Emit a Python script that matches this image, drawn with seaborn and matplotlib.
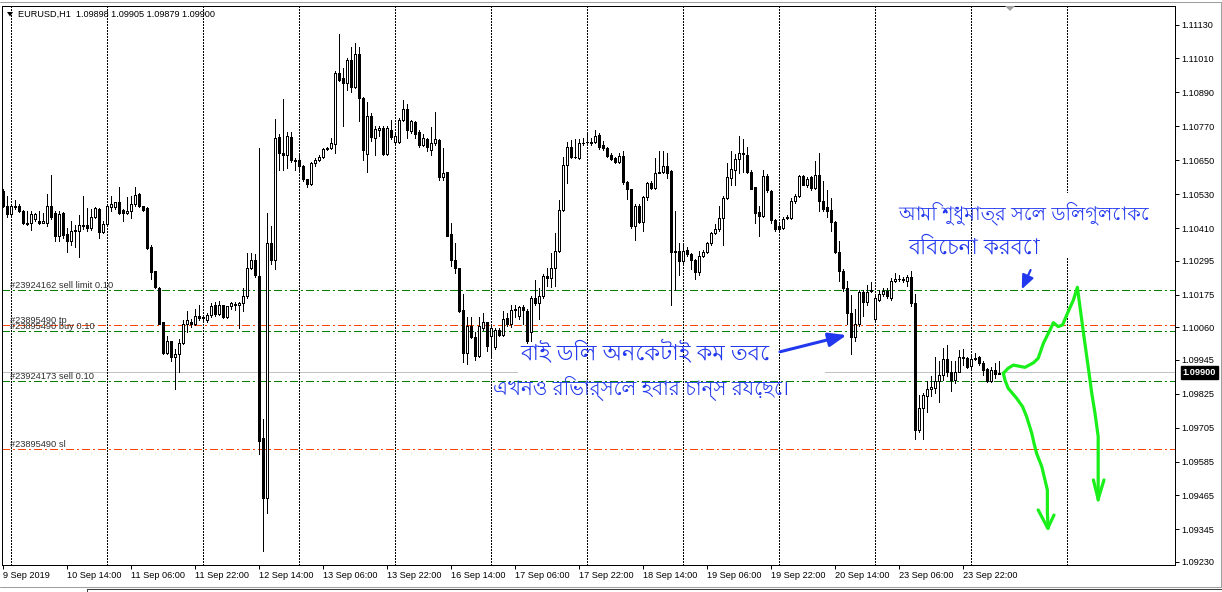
import numpy as np
import pandas as pd
import matplotlib
matplotlib.use("Agg")
import matplotlib.pyplot as plt
from matplotlib import font_manager as fm
from matplotlib.patches import Rectangle, Polygon
from matplotlib.lines import Line2D
import seaborn as sns

# ---------------- data (prices in points, 1 point = 0.00001) ----------------
symbol_title = "EURUSD,H1  1.09898 1.09905 1.09879 1.09900"

open_pts = [
    110541, 110490, 110461, 110488, 110490, 110470, 110430, 110428, 110444, 110437,
    110430, 110430, 110488, 110464, 110384, 110464, 110390, 110364, 110401, 110400,
    110417, 110420, 110410, 110450, 110477, 110397, 110424, 110486, 110486, 110501,
    110473, 110464, 110470, 110497, 110530, 110490, 110480, 110344, 110257, 110200,
    110077, 109970, 110010, 109953, 109964, 110004, 110070, 110080, 110070, 110100,
    110093, 110086, 110104, 110137, 110108, 110137, 110097, 110134, 110143, 110137,
    110144, 110170, 110270, 110297, 110241, 109670, 109457, 110357, 110297, 110733,
    110677, 110670, 110734, 110650, 110650, 110630, 110584, 110566, 110641, 110650,
    110660, 110690, 110693, 110708, 110960, 110940, 110924, 111004, 110910, 111026,
    110870, 110673, 110806, 110730, 110757, 110764, 110673, 110757, 110713, 110713,
    110793, 110830, 110753, 110786, 110750, 110704, 110726, 110688, 110710, 110721,
    110590, 110608, 110388, 110297, 110270, 110121, 109970, 110064, 110026, 109957,
    110057, 110077, 110030, 109990, 110050, 110033, 110094, 110070, 110121, 110100,
    110133, 110117, 110044, 110164, 110144, 110170, 110241, 110233, 110270, 110330,
    110474, 110633, 110697, 110660, 110657, 110710, 110713, 110716, 110713, 110741,
    110704, 110694, 110670, 110657, 110644, 110666, 110574, 110548, 110417, 110490,
    110433, 110520, 110568, 110553, 110606, 110610, 110630, 110613, 110330, 110330,
    110294, 110334, 110317, 110297, 110254, 110310, 110326, 110357, 110393, 110406,
    110446, 110517, 110588, 110617, 110655, 110673, 110670, 110610, 110554, 110467,
    110454, 110593, 110541, 110440, 110417, 110410, 110446, 110446, 110506, 110524,
    110593, 110564, 110590, 110553, 110597, 110506, 110484, 110474, 110433, 110326,
    110260, 110200, 110110, 110026, 110073, 110184, 110150, 110193, 110090, 110157,
    110177, 110188, 110164, 110224, 110230, 110230, 110224, 110237, 110144, 109697,
    109774, 109817, 109841, 109845, 109868, 109892, 109947, 109900, 109872, 109903,
    109956, 109951, 109924, 109947, 109953, 109933, 109912, 109868, 109909, 109895,
    109898,
]
high_pts = [
    110550, 110524, 110497, 110510, 110497, 110474, 110470, 110470, 110464, 110470,
    110464, 110530, 110597, 110470, 110470, 110467, 110410, 110437, 110420, 110457,
    110524, 110480, 110477, 110486, 110480, 110437, 110497, 110524, 110504, 110554,
    110477, 110521, 110524, 110557, 110534, 110490, 110484, 110350, 110257, 110201,
    110077, 110030, 110010, 109984, 110017, 110084, 110117, 110090, 110124, 110140,
    110104, 110110, 110144, 110150, 110154, 110140, 110134, 110150, 110150, 110150,
    110197, 110324, 110321, 110317, 110694, 109737, 110464, 110417, 110797, 110744,
    110868, 110750, 110750, 110657, 110670, 110633, 110584, 110644, 110657, 110668,
    110693, 110697, 110730, 110966, 111097, 110977, 111010, 111050, 111064, 111050,
    110874, 110857, 110817, 110770, 110770, 110770, 110770, 110793, 110744, 110801,
    110864, 110850, 110793, 110790, 110757, 110744, 110730, 110768, 110821, 110724,
    110694, 110610, 110430, 110357, 110270, 110177, 110097, 110097, 110044, 110097,
    110110, 110077, 110070, 110057, 110057, 110117, 110110, 110137, 110137, 110134,
    110137, 110124, 110170, 110228, 110197, 110248, 110270, 110321, 110393, 110508,
    110660, 110713, 110721, 110724, 110726, 110730, 110744, 110730, 110757, 110748,
    110717, 110697, 110677, 110660, 110677, 110684, 110577, 110550, 110497, 110497,
    110524, 110574, 110577, 110657, 110684, 110684, 110677, 110614, 110470, 110357,
    110357, 110344, 110321, 110300, 110330, 110334, 110361, 110397, 110424, 110490,
    110524, 110641, 110684, 110673, 110737, 110724, 110697, 110614, 110557, 110490,
    110614, 110601, 110544, 110444, 110424, 110450, 110457, 110517, 110530, 110597,
    110597, 110590, 110593, 110646, 110677, 110577, 110544, 110517, 110437, 110366,
    110264, 110224, 110174, 110124, 110190, 110190, 110210, 110221, 110170, 110190,
    110197, 110197, 110233, 110250, 110244, 110237, 110246, 110257, 110177, 109821,
    109827, 109868, 109886, 109956, 109939, 109986, 109998, 109939, 109939, 109978,
    109982, 109956, 109962, 109968, 109959, 109939, 109915, 109919, 109933, 109939,
    109905,
]
low_pts = [
    110486, 110450, 110457, 110477, 110466, 110424, 110420, 110404, 110437, 110424,
    110428, 110417, 110444, 110364, 110364, 110377, 110326, 110350, 110344, 110308,
    110406, 110401, 110404, 110446, 110377, 110393, 110417, 110470, 110477, 110460,
    110437, 110461, 110446, 110490, 110486, 110470, 110337, 110230, 110197, 110070,
    109964, 109964, 109940, 109841, 109901, 110000, 110044, 110060, 110068, 110086,
    110086, 110077, 110097, 110100, 110104, 110094, 110094, 110124, 110121, 110057,
    110117, 110164, 110264, 110237, 109610, 109270, 109404, 110284, 110264, 110617,
    110617, 110624, 110644, 110614, 110610, 110577, 110554, 110564, 110630, 110646,
    110657, 110686, 110690, 110677, 110930, 110770, 110897, 110890, 110904, 110790,
    110650, 110610, 110717, 110668, 110737, 110668, 110670, 110727, 110704, 110710,
    110790, 110730, 110748, 110730, 110697, 110700, 110684, 110668, 110704, 110580,
    110580, 110381, 110277, 110250, 110113, 109937, 109930, 110020, 109944, 109953,
    110050, 109977, 109957, 109984, 110030, 110028, 110064, 110062, 110097, 110090,
    110073, 110004, 110010, 110137, 110090, 110164, 110204, 110201, 110206, 110326,
    110470, 110570, 110657, 110657, 110655, 110704, 110708, 110704, 110710, 110690,
    110686, 110660, 110650, 110641, 110641, 110566, 110513, 110410, 110368, 110428,
    110401, 110510, 110548, 110548, 110604, 110604, 110588, 110137, 110190, 110246,
    110284, 110310, 110264, 110230, 110246, 110308, 110321, 110350, 110388, 110401,
    110350, 110513, 110561, 110561, 110604, 110610, 110604, 110548, 110430, 110384,
    110450, 110537, 110430, 110401, 110401, 110406, 110444, 110441, 110500, 110521,
    110561, 110557, 110544, 110548, 110470, 110470, 110450, 110401, 110321, 110224,
    110188, 110070, 109964, 110010, 110064, 110100, 110137, 110184, 110086, 110153,
    110170, 110164, 110157, 110221, 110224, 110221, 110204, 110134, 109664, 109691,
    109664, 109759, 109815, 109827, 109794, 109874, 109886, 109836, 109862, 109900,
    109927, 109915, 109915, 109945, 109927, 109892, 109865, 109865, 109880, 109893,
    109879,
]
close_pts = [
    110490, 110461, 110490, 110486, 110470, 110428, 110424, 110460, 110460, 110428,
    110434, 110488, 110450, 110381, 110461, 110386, 110364, 110401, 110404, 110420,
    110422, 110410, 110450, 110480, 110397, 110424, 110490, 110497, 110501, 110464,
    110464, 110470, 110497, 110528, 110490, 110474, 110341, 110254, 110201, 110073,
    109970, 110010, 109953, 109964, 110004, 110073, 110084, 110070, 110100, 110093,
    110097, 110104, 110134, 110108, 110137, 110097, 110134, 110144, 110137, 110144,
    110170, 110270, 110297, 110244, 109657, 109457, 110357, 110297, 110730, 110674,
    110670, 110737, 110650, 110646, 110630, 110584, 110566, 110641, 110650, 110660,
    110690, 110693, 110710, 110960, 110934, 110924, 111004, 110910, 111026, 110870,
    110686, 110806, 110734, 110760, 110764, 110673, 110764, 110734, 110737, 110793,
    110830, 110757, 110790, 110744, 110704, 110730, 110697, 110710, 110724, 110590,
    110606, 110384, 110297, 110268, 110117, 109970, 110064, 110024, 109957, 110064,
    110077, 109993, 110057, 110050, 110033, 110090, 110070, 110121, 110126, 110130,
    110121, 110010, 110164, 110144, 110170, 110241, 110233, 110270, 110330, 110474,
    110633, 110697, 110660, 110662, 110710, 110712, 110715, 110712, 110737, 110697,
    110694, 110664, 110655, 110644, 110666, 110574, 110548, 110417, 110490, 110433,
    110520, 110568, 110553, 110606, 110610, 110630, 110606, 110326, 110326, 110294,
    110330, 110317, 110297, 110254, 110310, 110326, 110357, 110393, 110406, 110446,
    110517, 110590, 110620, 110655, 110677, 110677, 110610, 110550, 110464, 110454,
    110596, 110544, 110440, 110406, 110406, 110444, 110449, 110506, 110524, 110593,
    110564, 110584, 110553, 110597, 110506, 110477, 110470, 110433, 110326, 110260,
    110197, 110110, 110026, 110073, 110184, 110150, 110184, 110188, 110164, 110177,
    110188, 110170, 110224, 110230, 110232, 110228, 110237, 110144, 109697, 109774,
    109821, 109841, 109848, 109868, 109892, 109947, 109900, 109872, 109903, 109956,
    109951, 109921, 109947, 109951, 109933, 109909, 109868, 109909, 109895, 109898,
    109900,
]

date_labels = ["9 Sep 2019", "10 Sep 14:00", "11 Sep 06:00", "11 Sep 22:00",
               "12 Sep 14:00", "13 Sep 06:00", "13 Sep 22:00", "16 Sep 14:00",
               "17 Sep 06:00", "17 Sep 22:00", "18 Sep 14:00", "19 Sep 06:00",
               "19 Sep 22:00", "20 Sep 14:00", "23 Sep 06:00", "23 Sep 22:00"]
price_ticks = [1.11130, 1.11010, 1.10890, 1.10770, 1.10650, 1.10530, 1.10410,
               1.10295, 1.10175, 1.10060, 1.09945, 1.09825, 1.09705, 1.09585,
               1.09465, 1.09345, 1.09230]

order_labels = ["#23924162 sell limit 0.10", "#23895490 tp", "#23895490 buy 0.10",
                "#23924173 sell 0.10", "#23895490 sl"]
order_prices = [1.10190, 1.10066, 1.10047, 1.09870, 1.09630]
order_kinds = ["green", "red", "green", "green", "red"]
bid_price = 1.09900

# hand-drawn projection strokes (bar index, price)
up_stroke_bar = [250.1, 251.3, 252.6, 255.5, 257.6, 258.8, 260.1, 261.75, 262.6, 263.8,
                 264.9, 266.3, 267.6, 268.6, 269.25, 270.25, 271.3, 272.2, 273.0, 273.8,
                 273.8, 273.8]
up_stroke_price = [1.09897, 1.09915, 1.09926, 1.09918, 1.09934, 1.09950, 1.10003, 1.10050,
                   1.10076, 1.10062, 1.10068, 1.10115, 1.10156, 1.10201, 1.10132, 1.10026,
                   1.09920, 1.09826, 1.09756, 1.09673, 1.09567, 1.09449]
up_head_bar = [272.6, 273.8, 275.25]
up_head_price = [1.09520, 1.09452, 1.09520]
down_stroke_bar = [250.1, 250.5, 251.3, 253.4, 254.9, 255.9, 257.2, 257.75, 258.4, 259.7,
                   260.5, 261.1, 261.1, 261.3]
down_stroke_price = [1.09897, 1.09873, 1.09844, 1.09809, 1.09779, 1.09744, 1.09685, 1.09650,
                     1.09614, 1.09567, 1.09520, 1.09484, 1.09402, 1.09349]
down_head_bar = [258.8, 261.2, 262.75]
down_head_price = [1.09414, 1.09349, 1.09396]

note_texts = ["আমি শুধুমাত্র সেল ডিলগুলোকে", "বিবেচনা করবো",
              "বাই ডিল অনেকটাই কম তবে", "এখনও রিভার্সেল হবার চান্স রয়েছে।"]

# ---------------- style ----------------
sns.set_theme(style="white")
plt.rcParams["lines.scale_dashes"] = False
small_font = ["Liberation Sans", "DejaVu Sans"]
plt.rcParams["font.family"] = small_font


def find_font(ch):
    from matplotlib.ft2font import FT2Font
    cands = sorted(fm.fontManager.ttflist, key=lambda f: (0 if "Bengali" in f.name else 1))
    seen = set()
    for f in cands:
        if f.fname in seen:
            continue
        seen.add(f.fname)
        try:
            if ord(ch) in FT2Font(f.fname).get_charmap():
                return f.name
        except Exception:
            pass
    return None


bn = find_font("আ")
bn_family = [bn, "DejaVu Sans"] if bn else ["DejaVu Sans"]

W, H = 1222, 592
fig = plt.figure(figsize=(W / 100, H / 100), dpi=100, facecolor="white")
ax_left, ax_right, ax_top, ax_bot = 2, 1175.3, 6, 565
ax = fig.add_axes([ax_left / W, 1 - ax_bot / H, (ax_right - ax_left) / W, (ax_bot - ax_top) / H])
ax.set_facecolor("white")

df = pd.DataFrame({"o": open_pts, "h": high_pts, "l": low_pts, "c": close_pts}) / 1e5
df["bar"] = np.arange(len(df))
up = df["c"] >= df["o"]

# price scale (1 px = 0.00003535)
ax.set_ylim(1.092193, 1.111954)
ax.set_xlim(-0.25, 293.08)

# vertical day grid
for g in range(2, 280, 24):
    ax.axvline(g, color="black", lw=0.72, ls=(0, (1.44, 1.44)), zorder=2, antialiased=False)

# bid line and mask of edited screenshot area
ax.axhline(bid_price, color="#c0c0c0", lw=0.72, zorder=1.5, antialiased=False)
ax.add_patch(Rectangle((128.75, 1.09887), 205.5 - 128.75, 1.09912 - 1.09887,
                       facecolor="white", edgecolor="none", zorder=1.6))
ax.add_patch(Rectangle((245.5, 1.10308), 289.25 - 245.5, 1.10534 - 1.10308,
                       facecolor="white", edgecolor="none", zorder=2.5))

# order lines
col_map = {"green": "#008000", "red": "#ff4500"}
for lab, pr, kd in zip(order_labels, order_prices, order_kinds):
    ax.axhline(pr, color=col_map[kd], lw=0.72, ls=(0, (5.04, 2.16, 1.44, 2.16)), zorder=2,
               antialiased=False)
    ax.annotate(lab, xy=(1.75, pr), xytext=(0, 1.5), textcoords="offset points",
                ha="left", va="baseline", fontsize=6.7, color="#303030", zorder=6)

# candles
ax.vlines(df["bar"], df["l"], df["h"], color="black", lw=0.72, zorder=3, antialiased=False)
body = (df["c"] - df["o"]).abs().clip(lower=2e-6)
bottom = df[["o", "c"]].min(axis=1)
ax.bar(df["bar"][up], body[up], bottom=bottom[up], width=0.5, facecolor="white",
       edgecolor="black", linewidth=0.72, zorder=4, antialiased=False)
ax.bar(df["bar"][~up], body[~up], bottom=bottom[~up], width=0.5, facecolor="black",
       edgecolor="black", linewidth=0.72, zorder=4, antialiased=False)

# hand drawn green strokes
green = "#19f019"
for xs, ys in [(up_stroke_bar, up_stroke_price), (up_head_bar, up_head_price),
               (down_stroke_bar, down_stroke_price), (down_head_bar, down_head_price)]:
    sns.lineplot(x=xs, y=ys, sort=False, estimator=None, color=green, lw=2.3, ax=ax,
                 zorder=7, solid_capstyle="round", solid_joinstyle="round")

# blue arrows
blue = "#2238ee"
ax.annotate("", xy=(210.9, 1.10032), xytext=(194.25, 1.09973),
            arrowprops=dict(arrowstyle="-|>,head_length=0.9,head_width=0.35",
                            color=blue, lw=2.2, shrinkA=0, shrinkB=0), zorder=8)
ax.annotate("", xy=(254.7, 1.10194), xytext=(256.9, 1.10262),
            arrowprops=dict(arrowstyle="-|>,head_length=0.7,head_width=0.3",
                            color=blue, lw=1.6, shrinkA=0, shrinkB=0), zorder=8)

# notes
note_pos = [(223.75, 1.10464, 250), (226.25, 1.10343, 132), (129.25, 1.09973, 250), (122.5, 1.09845, 297)]
note_artists = []
for txt, (xb, yp, wpx) in zip(note_texts, note_pos):
    t = ax.text(xb, yp, txt, ha="left", va="center", fontsize=15, color=blue,
                family=bn_family, zorder=9)
    note_artists.append((t, wpx))

# axes styling
for s in ax.spines.values():
    s.set_color("black")
    s.set_linewidth(0.72)
    s.set_antialiased(False)
ax.yaxis.tick_right()
ax.set_yticks(price_ticks)
ax.set_yticklabels([f"{v:.5f}" for v in price_ticks])
ax.set_xticks(np.arange(0, 16 * len(date_labels), 16))
ax.set_xticklabels(date_labels, ha="left")
ax.tick_params(axis="y", which="both", right=True, left=False, length=2.6, width=0.72,
               pad=1.5, labelsize=6.6, colors="black", direction="out")
ax.tick_params(axis="x", which="both", bottom=True, top=False, length=3.0, width=0.72,
               pad=1.0, labelsize=6.6, colors="black", direction="out")
ax.grid(False)
ax.set_xlabel("")
ax.set_ylabel("")

# current price box
ax.annotate(f"{bid_price:.5f}", xy=(1, bid_price), xycoords=("axes fraction", "data"),
            xytext=(5.2, 0), textcoords="offset points", ha="left", va="center",
            fontsize=6.6, color="white", fontweight="bold", annotation_clip=False,
            bbox=dict(boxstyle="square,pad=0.22", fc="black", ec="black"), zorder=10)

# title
fig.text(18 / W, 1 - 14.7 / H, symbol_title, ha="left", va="center", fontsize=6.6, color="black")
fig.add_artist(Polygon([[7 / W, 1 - 12 / H], [13 / W, 1 - 12 / H], [10 / W, 1 - 16.5 / H]],
                       closed=True, transform=fig.transFigure, facecolor="black", edgecolor="none"))

# window decorations
deco = "#a0a0a0"
fig.add_artist(Line2D([0, 1], [1 - 1.7 / H, 1 - 1.7 / H], transform=fig.transFigure, color=deco, lw=0.75))
fig.add_artist(Line2D([1220.5 / W, 1220.5 / W], [1 - 2 / H, 1 - 586.5 / H], transform=fig.transFigure, color=deco, lw=0.75))
fig.add_artist(Line2D([0, 1], [1 - 586.5 / H, 1 - 586.5 / H], transform=fig.transFigure, color=deco, lw=0.75))
fig.add_artist(Line2D([87 / W, 1], [1 - 589 / H, 1 - 589 / H], transform=fig.transFigure, color="#404040", lw=0.75))
fig.add_artist(Line2D([87 / W, 87 / W], [1 - 589 / H, 0], transform=fig.transFigure, color="#404040", lw=0.75))
fig.add_artist(Polygon([[1005 / W, 1 - 6 / H], [1015 / W, 1 - 6 / H], [1010 / W, 1 - 11 / H]],
                       closed=True, transform=fig.transFigure, facecolor=deco, edgecolor="none"))

# fit note widths
fig.canvas.draw()
r = fig.canvas.get_renderer()
for t, wpx in note_artists:
    w = t.get_window_extent(r).width
    if w > 0:
        f = max(0.6, min(1.5, wpx / w))
        t.set_fontsize(15 * f)

fig.savefig("out.png", dpi=100, facecolor="white")
